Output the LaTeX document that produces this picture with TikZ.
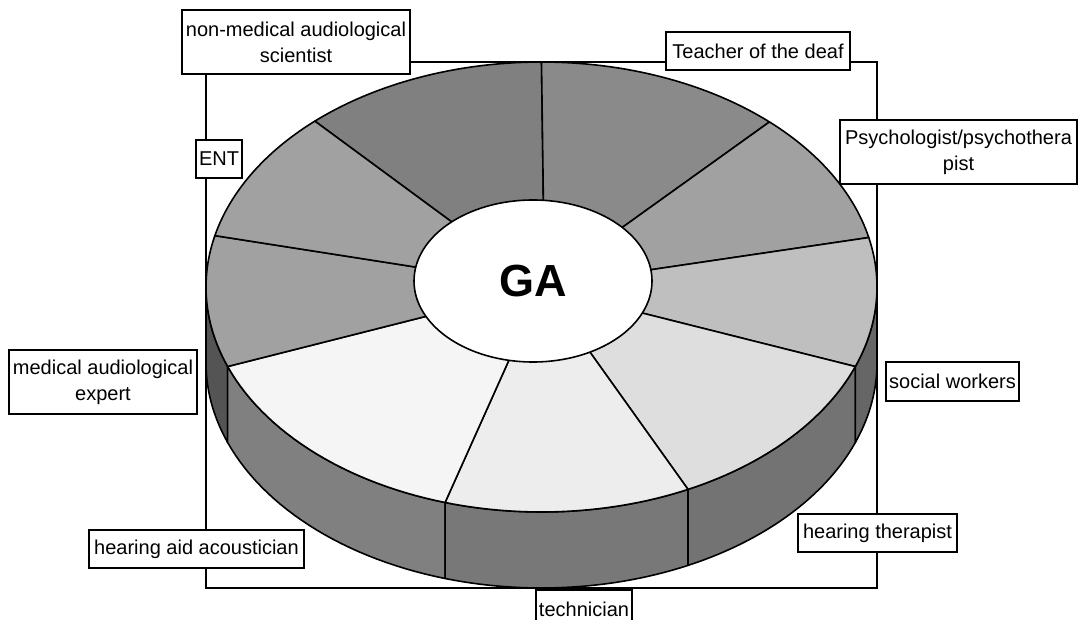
\documentclass[tikz,border=0pt]{standalone}
\usepackage{fontspec}
\setmainfont{Liberation Sans}
\usetikzlibrary{shapes.geometric}
\tikzstyle{tagbox} = [rectangle, draw=black, fill=white, line width=1.4pt, inner sep=0pt, align=center, font=\fontsize{20}{26}\selectfont]
\tikzstyle{hub} = [ellipse, draw=black, fill=white, line width=1.6pt, minimum width=238pt, minimum height=162pt, inner sep=0pt, font=\fontsize{45}{45}\selectfont\bfseries]
\tikzstyle{slice} = [draw=black, line width=1.6pt, line join=round]
\tikzstyle{frame} = [draw=black, line width=1.3pt]

\begin{document}
\begin{tikzpicture}[x=1pt, y=-1pt]
\useasboundingbox (0,0) rectangle (1079,620);

% plot area
\draw [frame] (206,62) rectangle (877,588);

% inner ends of the slice borders
\coordinate (mid) at (533,281);
\coordinate (in1) at ({533+119*cos(85)},{281-81*sin(85)});
\coordinate (in2) at ({533+119*cos(41.4)},{281-81*sin(41.4)});
\coordinate (in3) at ({533+119*cos(8)},{281-81*sin(8)});
\coordinate (in4) at ({533+119*cos(-23.3)},{281-81*sin(-23.3)});
\coordinate (in5) at ({533+119*cos(-61.4)},{281-81*sin(-61.4)});
\coordinate (in6) at ({533+119*cos(-101.7)},{281-81*sin(-101.7)});
\coordinate (in7) at ({533+119*cos(-154.1)},{281-81*sin(-154.1)});
\coordinate (in8) at ({533+119*cos(170.1)},{281-81*sin(170.1)});
\coordinate (in9) at ({533+119*cos(133.1)},{281-81*sin(133.1)});

% side of the ring
\draw [slice, fill=black!67] plot[domain=180:200.7, samples=20] ({541.5+335.5*cos(\x)},{287-225*sin(\x)})
    -- plot[domain=180:200.7, samples=20] ({541.5+335.5*cos(380.7-\x)},{363-225*sin(380.7-\x)}) -- cycle;
\draw [slice, fill=black!50] plot[domain=200.7:253.3, samples=30] ({541.5+335.5*cos(\x)},{287-225*sin(\x)})
    -- plot[domain=200.7:253.3, samples=30] ({541.5+335.5*cos(454-\x)},{363-225*sin(454-\x)}) -- cycle;
\draw [slice, fill=black!53] plot[domain=253.3:295.9, samples=30] ({541.5+335.5*cos(\x)},{287-225*sin(\x)})
    -- plot[domain=253.3:295.9, samples=30] ({541.5+335.5*cos(549.2-\x)},{363-225*sin(549.2-\x)}) -- cycle;
\draw [slice, fill=black!55] plot[domain=295.9:339.3, samples=30] ({541.5+335.5*cos(\x)},{287-225*sin(\x)})
    -- plot[domain=295.9:339.3, samples=30] ({541.5+335.5*cos(635.2-\x)},{363-225*sin(635.2-\x)}) -- cycle;
\draw [slice, fill=black!60] plot[domain=339.3:360, samples=20] ({541.5+335.5*cos(\x)},{287-225*sin(\x)})
    -- plot[domain=339.3:360, samples=20] ({541.5+335.5*cos(699.3-\x)},{363-225*sin(699.3-\x)}) -- cycle;

% top of the ring
\draw [slice, fill=black!50] plot[domain=90:132.5, samples=30] ({541.5+335.5*cos(\x)},{287-225*sin(\x)}) -- (in9) -- (mid) -- (in1) -- cycle;
\draw [slice, fill=black!46] plot[domain=47.2:90, samples=30] ({541.5+335.5*cos(\x)},{287-225*sin(\x)}) -- (in1) -- (mid) -- (in2) -- cycle;
\draw [slice, fill=black!37] plot[domain=12.7:47.2, samples=30] ({541.5+335.5*cos(\x)},{287-225*sin(\x)}) -- (in2) -- (mid) -- (in3) -- cycle;
\draw [slice, fill=black!25] plot[domain=-20.7:12.7, samples=30] ({541.5+335.5*cos(\x)},{287-225*sin(\x)}) -- (in3) -- (mid) -- (in4) -- cycle;
\draw [slice, fill=black!13] plot[domain=-64.1:-20.7, samples=30] ({541.5+335.5*cos(\x)},{287-225*sin(\x)}) -- (in4) -- (mid) -- (in5) -- cycle;
\draw [slice, fill=black!7] plot[domain=-106.7:-64.1, samples=30] ({541.5+335.5*cos(\x)},{287-225*sin(\x)}) -- (in5) -- (mid) -- (in6) -- cycle;
\draw [slice, fill=black!4] plot[domain=-159.3:-106.7, samples=30] ({541.5+335.5*cos(\x)},{287-225*sin(\x)}) -- (in6) -- (mid) -- (in7) -- cycle;
\draw [slice, fill=black!37] plot[domain=166.8:200.7, samples=30] ({541.5+335.5*cos(\x)},{287-225*sin(\x)}) -- (in7) -- (mid) -- (in8) -- cycle;
\draw [slice, fill=black!37] plot[domain=132.5:166.8, samples=30] ({541.5+335.5*cos(\x)},{287-225*sin(\x)}) -- (in8) -- (mid) -- (in9) -- cycle;

\node (ga) [hub] at (mid) {GA};

% labels
\node (scientist) [tagbox, minimum width=228pt, minimum height=64pt] at (296,42) {non-medical audiological\\scientist};
\node (teacher) [tagbox, minimum width=184pt, minimum height=38pt] at (758,51) {Teacher of the deaf};
\node (psych) [tagbox, minimum width=237pt, minimum height=64pt] at (958.5,152) {Psychologist/psychothera\\pist};
\node (ent) [tagbox, minimum width=46pt, minimum height=38pt] at (219,159) {ENT};
\node (medexpert) [tagbox, minimum width=188pt, minimum height=64pt] at (103,382) {medical audiological\\expert};
\node (social) [tagbox, minimum width=133pt, minimum height=39pt] at (952.5,381.5) {social workers};
\node (therapist) [tagbox, minimum width=159pt, minimum height=38pt] at (877.5,533) {hearing therapist};
\node (acoustician) [tagbox, minimum width=215pt, minimum height=38pt] at (196.5,549) {hearing aid acoustician};
\node (technician) [tagbox, minimum width=96pt, minimum height=38pt] at (584,609) {technician};
\end{tikzpicture}
\end{document}
